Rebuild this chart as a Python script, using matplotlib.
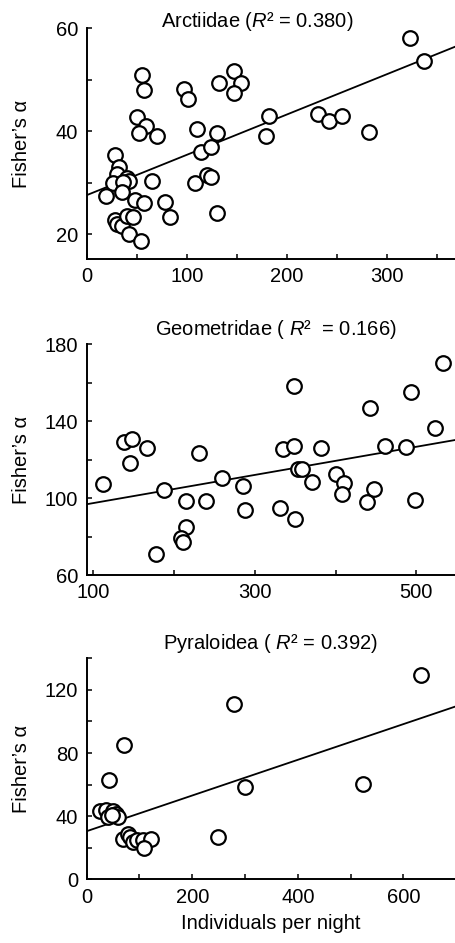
import matplotlib
matplotlib.use('Agg')
import matplotlib.pyplot as plt
import numpy as np

plt.rcParams['font.family'] = ['Liberation Sans', 'DejaVu Sans']
plt.rcParams['mathtext.fontset'] = 'custom'
plt.rcParams['mathtext.rm'] = 'Liberation Sans'
plt.rcParams['mathtext.it'] = 'Liberation Sans:italic'

# Arctiidae: individuals per night vs Fisher's alpha
arc_x = [323, 337, 55, 57, 97, 101, 132, 147, 154, 147,
         50, 59, 52, 70, 110, 130, 182, 179, 231, 242, 255, 282,
         28, 114, 124,
         32, 30, 40, 42, 26, 36, 19, 35, 48, 57, 65, 78, 83,
         108, 120, 124, 130,
         28, 30, 35, 40, 46, 42, 54]
arc_y = [58.1, 53.6, 50.9, 48.0, 48.2, 46.2, 49.4, 51.8, 49.3, 47.5,
         42.8, 41.1, 39.6, 39.0, 40.4, 39.6, 43.0, 39.1, 43.3, 42.0, 43.0, 39.9,
         35.4, 35.9, 37.0,
         33.0, 31.8, 30.9, 30.4, 30.0, 30.1, 27.5, 28.2, 26.7, 26.1, 30.4, 26.3, 23.3,
         29.9, 31.6, 31.2, 24.1,
         22.8, 22.0, 21.6, 23.6, 23.3, 20.0, 18.7]
arc_fit = (27.6, 0.0783)  # intercept, slope

# Geometridae
geo_x = [533, 348, 493, 443, 523, 138, 148, 166, 231, 335, 349, 382, 461, 487,
         145, 112, 188, 215, 240, 259, 285, 288, 215, 209, 211, 178,
         331, 350, 353, 359, 371, 400, 410, 408, 439, 448, 498]
geo_y = [170.1, 158.3, 155.4, 147.0, 136.3, 129.3, 130.6, 126.2, 123.3, 125.4,
         127.2, 126.2, 127.1, 126.7,
         118.1, 107.2, 104.2, 98.6, 98.5, 110.3, 106.4, 93.8, 85.1, 79.4, 77.3, 70.7,
         95.0, 89.1, 115.0, 115.1, 108.2, 112.4, 108.0, 102.0, 98.1, 104.6, 99.0]
geo_fit = (90.1, 0.0732)

# Pyraloidea
pyr_x = [633, 279, 71, 42, 300, 523, 248,
         25, 37, 50, 55, 41, 60, 48,
         68, 79, 82, 88, 95, 107, 121, 109]
pyr_y = [129.6, 110.9, 85.0, 63.0, 58.8, 60.3, 26.8,
         43.5, 44.0, 43.5, 41.5, 39.5, 39.7, 40.8,
         25.3, 29.0, 26.8, 23.6, 25.0, 24.7, 25.3, 20.1]
pyr_fit = (30.5, 0.113)

panels = [
    dict(x=arc_x, y=arc_y, fit=arc_fit,
         title='Arctiidae ($\\mathit{R}$\u00b2 = 0.380)', title_x=0.463, title_pad=1,
         xlim=(0, 368), ylim=(15.2, 60),
         xmajor=[0, 100, 200, 300], xminor=[50, 150, 250, 350],
         ymajor=[20, 40, 60], yminor=[30, 50],
         rect=[0.1905, 0.7253, 0.8095, 0.2447]),
    dict(x=geo_x, y=geo_y, fit=geo_fit,
         title='Geometridae ( $\\mathit{R}$\u00b2  = 0.166)', title_x=0.514, title_pad=6.8,
         xlim=(91.8, 548), ylim=(60, 180),
         xmajor=[100, 300, 500], xminor=[200, 400],
         ymajor=[60, 100, 140, 180], yminor=[80, 120, 160],
         rect=[0.1905, 0.3902, 0.8095, 0.2447]),
    dict(x=pyr_x, y=pyr_y, fit=pyr_fit,
         title='Pyraloidea ( $\\mathit{R}$\u00b2 = 0.392)', title_x=0.5, title_pad=6.6,
         xlim=(0, 698), ylim=(0, 140),
         xmajor=[0, 200, 400, 600], xminor=[100, 300, 500],
         ymajor=[0, 40, 80, 120], yminor=[20, 60, 100, 140],
         rect=[0.1905, 0.0675, 0.8095, 0.2344]),
]


def draw_panel(fig, p, last):
    ax = fig.add_axes(p['rect'])
    ax.plot(p['x'], p['y'], 'o', ms=10.5, mfc='white', mec='black', mew=1.6,
            zorder=3, clip_on=False)
    a, b = p['fit']
    xs = np.array(p['xlim'])
    ax.plot(xs, a + b * xs, color='black', lw=1.3, zorder=2)

    ax.set_xlim(*p['xlim'])
    ax.set_ylim(*p['ylim'])
    ax.set_xticks(p['xmajor'])
    ax.set_xticks(p['xminor'], minor=True)
    ax.set_yticks(p['ymajor'])
    ax.set_yticks(p['yminor'], minor=True)

    for s in ['top', 'right']:
        ax.spines[s].set_visible(False)
    for s in ['left', 'bottom']:
        ax.spines[s].set_linewidth(1.4)

    ax.tick_params(which='both', direction='in', length=3.5, width=1.1,
                   labelsize=14.5)
    ax.tick_params(axis='x', which='both', pad=6)
    ax.tick_params(axis='y', which='both', pad=6)

    # y=1.0 given explicitly so the title is not pushed up automatically
    ax.set_title(p['title'], fontsize=14.5, x=p['title_x'], y=1.0,
                 pad=p['title_pad'])
    ax.set_ylabel('Fisher\u2019s \u03b1', fontsize=14.5)
    ax.yaxis.set_label_coords(-0.15, 0.5)
    if last:
        ax.set_xlabel('Individuals per night', fontsize=14.5, labelpad=5)
    return ax


def main():
    fig = plt.figure(figsize=(4.55, 9.43), dpi=100)
    for i, p in enumerate(panels):
        draw_panel(fig, p, i == len(panels) - 1)
    fig.savefig('out.png', dpi=100)


if __name__ == '__main__':
    main()
